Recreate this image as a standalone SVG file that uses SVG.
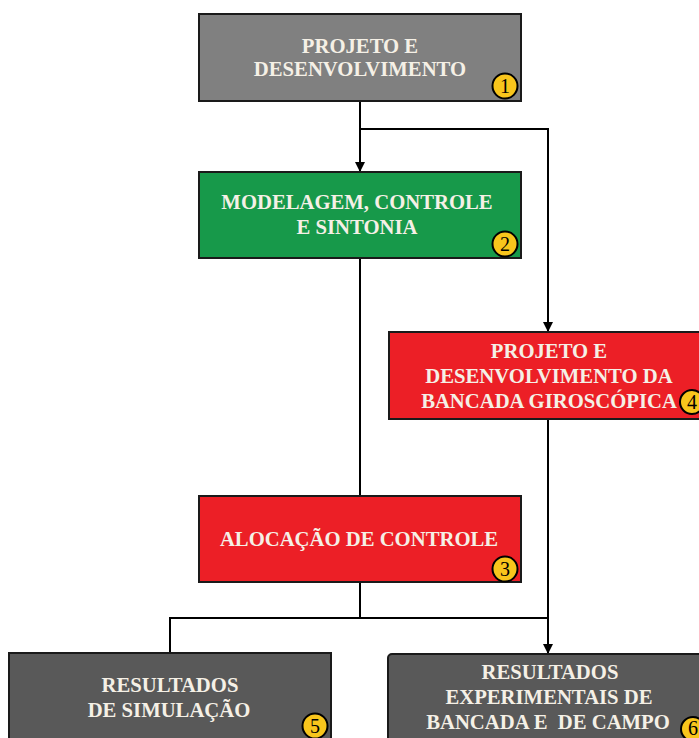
<svg xmlns="http://www.w3.org/2000/svg" width="699" height="738" viewBox="0 0 699 738">
<defs>
<marker id="arr" viewBox="0 0 10 10" refX="10" refY="5" markerWidth="10" markerHeight="10" markerUnits="userSpaceOnUse" orient="auto">
<path d="M0,0 L10,5 L0,10 z" fill="#000"/>
</marker>
<style>
.box{stroke:#1a1a1a;stroke-width:2}
.t{font-family:"Liberation Serif","Times New Roman",serif;font-weight:bold;font-size:20.7px;fill:#f5f0e6;text-anchor:middle}
.badge{fill:#f8c51c;stroke:#000;stroke-width:2}
.n{font-family:"Liberation Serif","Times New Roman",serif;font-size:20px;fill:#000;text-anchor:middle}
.c{fill:none;stroke:#000;stroke-width:2}
</style>
</defs>
<rect width="699" height="738" fill="#fff"/>
<g id="connectors">
<path class="c" d="M360,101 V172" marker-end="url(#arr)"/>
<path class="c" d="M360,129 H548 V332" marker-end="url(#arr)"/>
<path class="c" d="M360,258 V496"/>
<path class="c" d="M360,582 V618"/>
<path class="c" d="M170,653 V618 H548"/>
<path class="c" d="M548,419 V654" marker-end="url(#arr)"/>
</g>
<g id="node1">
<rect class="box" x="199" y="14" width="322" height="87" fill="#808080"/>
<text class="t" x="360" y="53">PROJETO E</text>
<text class="t" x="360" y="76">DESENVOLVIMENTO</text>
<circle class="badge" cx="505" cy="86" r="12.5"/>
<text class="n" x="505" y="93">1</text>
</g>
<g id="node2">
<rect class="box" x="199" y="172" width="322" height="86" fill="#17994a"/>
<text class="t" x="357" y="209">MODELAGEM, CONTROLE</text>
<text class="t" x="357" y="234">E SINTONIA</text>
<circle class="badge" cx="505" cy="244" r="12.5"/>
<text class="n" x="505" y="251">2</text>
</g>
<g id="node4">
<rect class="box" x="389" y="332" width="322" height="87" fill="#ec1f26"/>
<text class="t" x="549" y="358">PROJETO E</text>
<text class="t" x="549" y="383">DESENVOLVIMENTO DA</text>
<text class="t" x="549" y="408">BANCADA GIROSCÓPICA</text>
<circle class="badge" cx="692" cy="402" r="12"/>
<text class="n" x="692" y="409">4</text>
</g>
<g id="node3">
<rect class="box" x="199" y="496" width="322" height="86" fill="#ec1f26"/>
<text class="t" x="359" y="546">ALOCAÇÃO DE CONTROLE</text>
<circle class="badge" cx="505" cy="569" r="12.5"/>
<text class="n" x="505" y="576">3</text>
</g>
<g id="node5">
<rect class="box" x="9" y="653" width="322" height="100" fill="#595959"/>
<text class="t" x="170" y="692">RESULTADOS</text>
<text class="t" x="169" y="717">DE SIMULAÇÃO</text>
<circle class="badge" cx="315" cy="726" r="12.5"/>
<text class="n" x="315" y="733">5</text>
</g>
<g id="node6">
<rect class="box" x="388" y="654" width="330" height="100" rx="4" fill="#595959" stroke="#777"/>
<text class="t" x="550" y="679">RESULTADOS</text>
<text class="t" x="549" y="704">EXPERIMENTAIS DE</text>
<text class="t" x="548" y="729" xml:space="preserve">BANCADA E  DE CAMPO</text>
<circle class="badge" cx="693" cy="729" r="12"/>
<text class="n" x="693" y="735">6</text>
</g>
</svg>
